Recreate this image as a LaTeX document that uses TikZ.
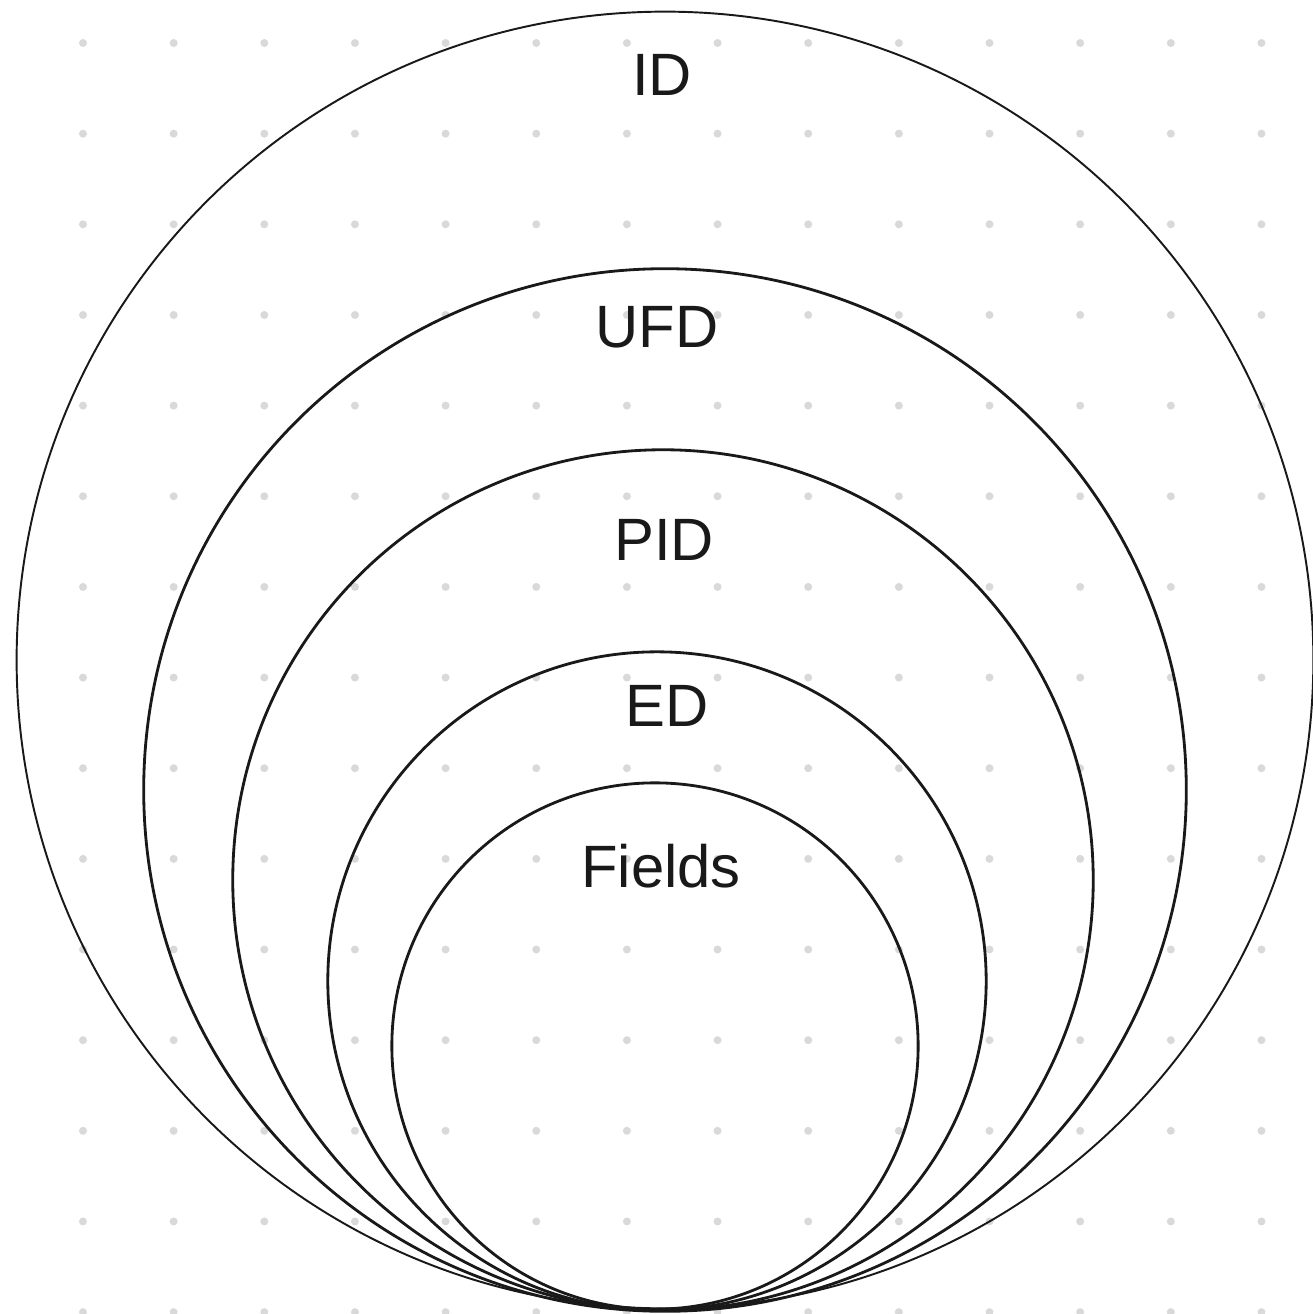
\documentclass[tikz,border=0pt]{standalone}
\usepackage{fontspec}
\setmainfont{Liberation Sans}
\usepackage{tikz}
\usetikzlibrary{positioning}

\begin{document}
\begin{tikzpicture}[x=0.01cm, y=-0.01cm,
    ring/.style={draw=black!90, line width=0.8pt},
    outerring/.style={draw=black!90, line width=0.55pt},
    tag/.style={font=\fontsize{17}{20}\selectfont, text=black!90, inner sep=0pt},
    griddot/.style={fill=black!15}]

    \useasboundingbox (0,0) rectangle (1313,1314);

    % dotted background
    \foreach \i in {0,...,13}
        \foreach \j in {0,...,14}
            \fill[griddot] (83+90.65*\i, 43+90.65*\j) circle (0.04cm);

    % nested rings, all touching at the bottom
    \draw[outerring] (665,660) circle[radius=6.48cm];
    \draw[ring] (665,790) circle[radius=5.21cm];
    \draw[ring] (663,880) circle[radius=4.30cm];
    \draw[ring] (657,981) circle[radius=3.29cm];
    \draw[ring] (655,1046) circle[radius=2.63cm];

    \node[tag] (id) at (662,75) {ID};
    \node[tag] (ufd) at (657,327) {UFD};
    \node[tag] (pid) at (664,540) {PID};
    \node[tag] (ed) at (667,706) {ED};
    \node[tag] (fields) at (661,866) {Fields};
\end{tikzpicture}
\end{document}
